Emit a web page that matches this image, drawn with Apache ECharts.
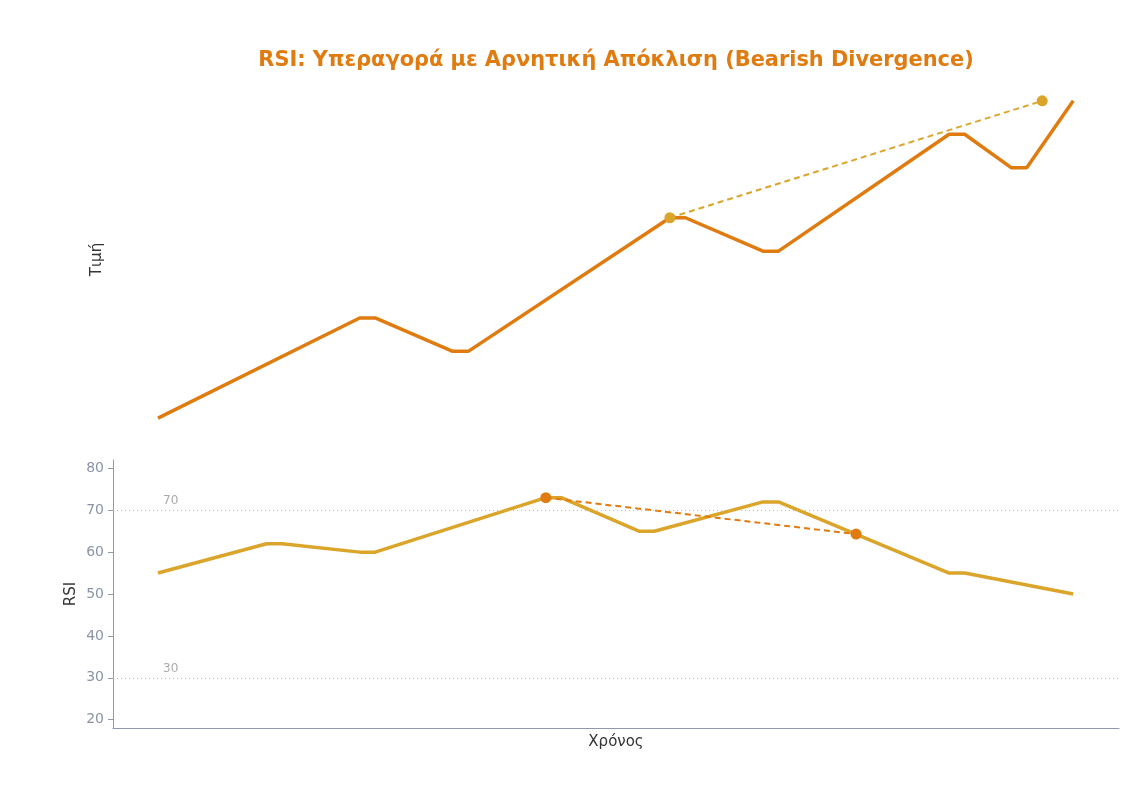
<!DOCTYPE html>
<html>
<head>
<meta charset="utf-8">
<script src="https://cdn.jsdelivr.net/npm/echarts@6/dist/echarts.min.js"></script>
<style>
  html, body { margin: 0; padding: 0; background: #fff; }
  #chart { width: 1146px; height: 788px; }
</style>
</head>
<body>
<div id="chart"></div>
<script>
// time steps (x) and values at the turning points of each line
const priceSteps = [0, 13, 14, 19, 20, 33, 34, 39, 40, 51, 52, 55, 56, 59];
const priceValues = [100, 130, 130, 120, 120, 160, 160, 150, 150, 185, 185, 175, 175, 195];
const rsiSteps = [0, 7, 8, 13, 14, 25, 26, 31, 32, 39, 40, 51, 52, 59];
const rsiValues = [55, 62, 62, 60, 60, 73, 73, 65, 65, 72, 72, 55, 55, 50];

// divergence trend lines
const priceHighs = [[33, 160], [57, 195]];
const rsiHighs = [[25, 73], [45, 64.3]];

const rsiTicks = [20, 30, 40, 50, 60, 70, 80];
const levels = [70, 30];

const ORANGE = '#e07b10';
const GOLD = '#daa52a';
const AXIS = '#8c9aab';
const FONT = 'DejaVu Sans';

const chart = echarts.init(document.getElementById('chart'));

const option = {
  animation: false,
  textStyle: { fontFamily: FONT },
  title: {
    text: 'RSI: Υπεραγορά με Αρνητική Απόκλιση (Bearish Divergence)',
    left: 611,
    top: 45,
    textAlign: 'center',
    textStyle: { color: ORANGE, fontSize: 20.9, fontWeight: 'bold', fontFamily: FONT }
  },
  grid: [
    { left: 113, right: 27, top: 85, height: 349 },
    { left: 113, right: 27, top: 460, height: 268 }
  ],
  xAxis: [
    {
      gridIndex: 0, type: 'value', min: -2.9, max: 61.95, show: false
    },
    {
      gridIndex: 1, type: 'value', min: -2.9, max: 61.95,
      name: 'Χρόνος', nameLocation: 'middle', nameGap: 7,
      nameTextStyle: { color: '#333', fontSize: 15, fontFamily: FONT },
      axisLine: { show: true, onZero: false, lineStyle: { color: AXIS, width: 1 } },
      axisTick: { show: false },
      axisLabel: { show: false },
      splitLine: { show: false }
    }
  ],
  yAxis: [
    {
      gridIndex: 0, type: 'value', min: 95.25, max: 199.75,
      name: 'Τιμή', nameLocation: 'middle', nameGap: 8,
      nameTextStyle: { color: '#333', fontSize: 15, fontFamily: FONT },
      axisLine: { show: false, onZero: false },
      axisTick: { show: false },
      axisLabel: { show: false },
      splitLine: { show: false }
    },
    {
      gridIndex: 1, type: 'value', min: 18, max: 82,
      name: 'RSI', nameLocation: 'middle', nameGap: 34, nameMoveOverlap: false,
      nameTextStyle: { color: '#333', fontSize: 15, fontFamily: FONT },
      axisLine: { show: true, onZero: false, lineStyle: { color: AXIS, width: 1 } },
      axisTick: { show: true, length: 5, lineStyle: { color: AXIS }, customValues: rsiTicks },
      axisLabel: { color: '#8a94a6', fontSize: 14, margin: 9, fontFamily: FONT, customValues: rsiTicks },
      splitLine: { show: false }
    }
  ],
  series: [
    {
      name: 'Τιμή',
      type: 'line',
      xAxisIndex: 0, yAxisIndex: 0,
      data: priceSteps.map((s, i) => [s, priceValues[i]]),
      showSymbol: false,
      lineStyle: { color: ORANGE, width: 3.5 },
      z: 2
    },
    {
      name: 'Τιμή highs',
      type: 'line',
      xAxisIndex: 0, yAxisIndex: 0,
      data: priceHighs,
      symbol: 'circle', symbolSize: 11,
      itemStyle: { color: GOLD },
      lineStyle: { color: GOLD, width: 2, type: [6, 4] },
      z: 3
    },
    {
      name: 'RSI',
      type: 'line',
      xAxisIndex: 1, yAxisIndex: 1,
      data: rsiSteps.map((s, i) => [s, rsiValues[i]]),
      showSymbol: false,
      lineStyle: { color: GOLD, width: 3.5 },
      z: 2,
      markLine: {
        silent: true,
        symbol: 'none',
        lineStyle: { color: '#bcbcbc', type: [1, 3], width: 1 },
        label: {
          show: true,
          position: 'insideStartTop',
          distance: [50, 3],
          color: '#aaaaaa',
          fontSize: 12,
          fontFamily: FONT,
          formatter: p => String(p.value)
        },
        data: levels.map(v => ({ yAxis: v }))
      }
    },
    {
      name: 'RSI highs',
      type: 'line',
      xAxisIndex: 1, yAxisIndex: 1,
      data: rsiHighs,
      symbol: 'circle', symbolSize: 11,
      itemStyle: { color: ORANGE },
      lineStyle: { color: ORANGE, width: 2, type: [6, 4] },
      z: 3
    }
  ]
};

chart.setOption(option);
</script>
</body>
</html>
